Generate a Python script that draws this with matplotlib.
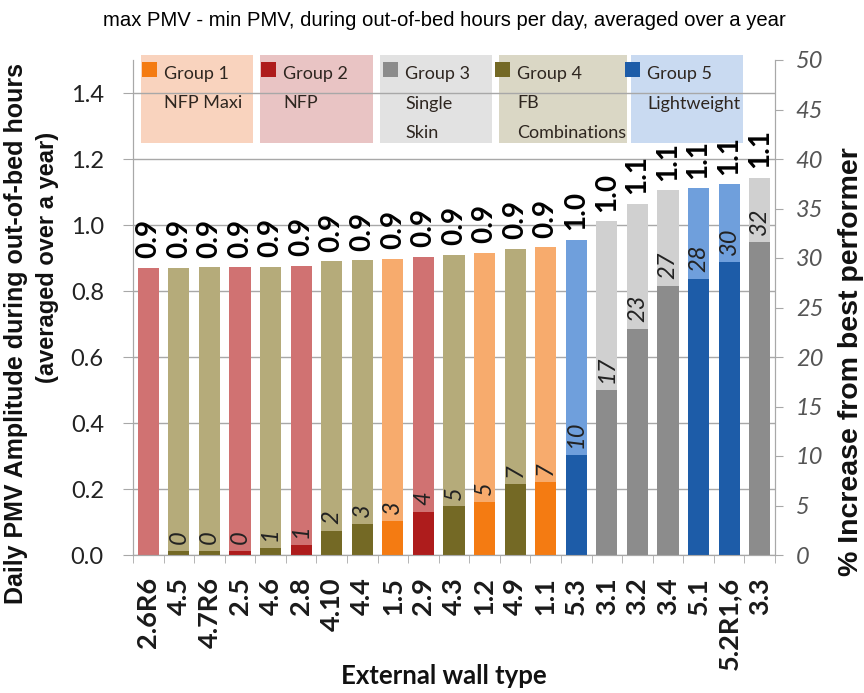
import numpy as np
import matplotlib
matplotlib.use('Agg')
import matplotlib.pyplot as plt
from matplotlib.patches import Rectangle

# wall types, left to right
walls = ['2.6R6', '4.5', '4.7R6', '2.5', '4.6', '2.8', '4.10', '4.4', '1.5', '2.9', '4.3',
         '1.2', '4.9', '1.1', '5.3', '3.1', '3.2', '3.4', '5.1', '5.2R1,6', '3.3']
# group of each wall (1..5)
groups = [2, 4, 4, 2, 4, 2, 4, 4, 1, 2, 4, 1, 4, 1, 5, 3, 3, 3, 5, 5, 3]
# daily PMV amplitude (left axis)
amplitude = [0.870, 0.871, 0.872, 0.872, 0.874, 0.876, 0.890, 0.893, 0.897, 0.904, 0.910,
             0.916, 0.928, 0.932, 0.955, 1.011, 1.064, 1.105, 1.111, 1.123, 1.142]
# % increase from best performer (right axis)
increase = [0, 0.4, 0.4, 0.4, 0.7, 1.0, 2.4, 3.1, 3.4, 4.3, 4.9,
            5.4, 7.2, 7.4, 10.1, 16.7, 22.8, 27.2, 27.9, 29.6, 31.6]

group_names = ['Group 1\nNFP Maxi', 'Group 2\nNFP', 'Group 3\nSingle\nSkin',
               'Group 4\nFB\nCombinations', 'Group 5\nLightweight']

# colours per group
light_col = {1: '#F7AB6D', 2: '#D07272', 3: '#D0D0D0', 4: '#B5AB7A', 5: '#6F9FDC'}
dark_col = {1: '#F47B12', 2: '#AE1C1C', 3: '#8C8C8C', 4: '#746925', 5: '#1D5CA8'}
box_col = {1: '#F9D3BE', 2: '#E9C4C4', 3: '#E2E2E2', 4: '#DAD7C5', 5: '#C9DAF1'}

FONT = ['Lato', 'DejaVu Sans']
ARIAL = ['Liberation Sans', 'DejaVu Sans']
GRID = '#A8A8A8'

fig = plt.figure(figsize=(8.64, 6.93), dpi=100)
ax = fig.add_axes([133 / 864, 138 / 693, 642 / 864, 495 / 693])
ax2 = ax.twinx()

x = np.arange(len(walls))
w = 0.69
ax.bar(x, amplitude, width=w, color=[light_col[g] for g in groups], zorder=2)
ax2.bar(x, increase, width=w, color=[dark_col[g] for g in groups], zorder=2)

ax.set_xlim(-0.5, len(walls) - 0.5)
ax.set_ylim(0, 1.5)
ax2.set_ylim(0, 50)

# grid
ax.set_axisbelow(True)
ax.set_yticks(np.arange(0, 1.41, 0.2))
ax.yaxis.grid(True, color=GRID, linewidth=1)
ax.set_yticklabels([f'{v:.1f}' for v in np.arange(0, 1.41, 0.2)],
                   family=FONT, fontsize=17, color='#222222')
ax2.set_yticks(np.arange(0, 51, 5))
ax2.set_yticklabels([str(v) for v in range(0, 51, 5)], family=FONT, fontsize=17,
                    style='italic', color='#555555')

ax.set_xticks(x)
ax.set_xticklabels(walls, rotation=90, family=FONT, fontsize=19.5, fontweight='bold',
                   color='#1A1A1A')
ax.set_xticks(np.arange(-0.5, len(walls)), minor=True)
ax.tick_params(axis='x', which='major', length=0, pad=16)
ax.tick_params(axis='x', which='minor', length=6, color=GRID, direction='out')
ax.tick_params(axis='y', length=7, color=GRID, pad=14)
ax2.tick_params(axis='y', length=6, color=GRID, pad=9)

for a in (ax, ax2):
    a.spines['top'].set_visible(False)
    for s in ('left', 'right', 'bottom'):
        a.spines[s].set_color(GRID)

# group legend boxes (pixel positions in the axes)
box_x = [141, 260, 380, 499, 631]
box_w = [112, 113, 112, 128, 112]
mark_x = [142, 261, 383, 495, 625]
for i, name in enumerate(group_names):
    g = i + 1
    ax.add_patch(Rectangle(((box_x[i] - 133) / 642, 0.832), box_w[i] / 642, 0.178,
                           transform=ax.transAxes, facecolor=box_col[g], edgecolor='none',
                           zorder=0.3, clip_on=False))
    ax.add_patch(Rectangle(((mark_x[i] - 133) / 642, 0.966), 15 / 642, 0.029,
                           transform=ax.transAxes, facecolor=dark_col[g], edgecolor='none',
                           zorder=0.4, clip_on=False))
    for k, line in enumerate(name.split('\n')):
        ax.text((mark_x[i] + 22 - 133) / 642, (555 - 74 - 29.5 * k) / 495, line,
                transform=ax.transAxes, ha='left', va='center', family=FONT, fontsize=13,
                color='#2E2620', zorder=0.4)

# value labels
for i in range(len(walls)):
    ax.annotate(f'{amplitude[i]:.1f}', (x[i], amplitude[i]), xytext=(0, 7),
                textcoords='offset points', rotation=90, ha='center', va='bottom',
                family=FONT, fontsize=20, fontweight='bold', color='black', zorder=3)
    if i > 0:
        ax2.annotate(f'{increase[i]:.0f}', (x[i], increase[i]), xytext=(0, 5),
                     textcoords='offset points', rotation=90, ha='center', va='bottom',
                     family=FONT, fontsize=17, style='italic', color='#222222', zorder=3)

fig.text(444 / 864, 1 - 20 / 693,
         'max PMV - min PMV, during out-of-bed hours per day, averaged over a year',
         ha='center', va='center', family=ARIAL, fontsize=14.6)
fig.text(16 / 864, 1 - 333 / 693, 'Daily PMV Amplitude during out-of-bed hours',
         rotation=90, ha='center', va='center', family=ARIAL, fontsize=18,
         fontweight='bold', color='#111111')
fig.text(48 / 864, 1 - 257 / 693, '(averaged over a year)',
         rotation=90, ha='center', va='center', family=ARIAL, fontsize=17,
         fontweight='bold', color='#111111')
fig.text(851 / 864, 1 - 362 / 693, '% Increase from best performer', rotation=90,
         ha='center', va='center', family=ARIAL, fontsize=20.5, fontweight='bold',
         color='#111111')
fig.text(444 / 864, 1 - 676 / 693, 'External wall type', ha='center', va='center',
         family=FONT, fontsize=18.5, fontweight='bold', color='#111111')

fig.savefig('out.png', dpi=100)
